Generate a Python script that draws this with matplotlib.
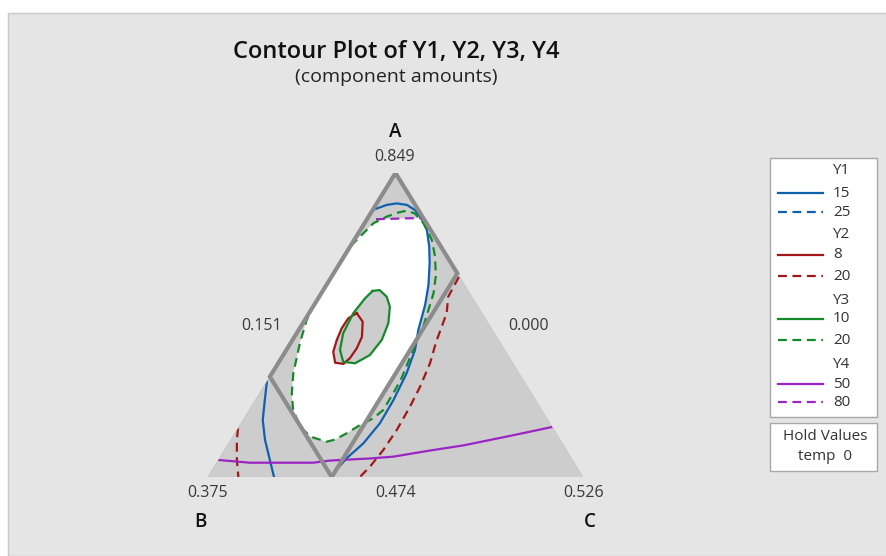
import matplotlib

matplotlib.use("Agg")
import matplotlib.pyplot as plt
from matplotlib.lines import Line2D
from matplotlib.patches import Polygon, Rectangle

plt.rcParams["font.family"] = ["Open Sans", "DejaVu Sans"]

W, H = 886, 556

# ---- data (component proportions A and C; B = 1 - A - C) ----
vertex_names = ["A", "B", "C"]
vertex_amounts = [0.849, 0.375, 0.526]
side_amounts = [0.151, 0.000, 0.474]          # left side, right side, base

# feasible (constrained) region
region_a = [1.00, 0.67, 0.00, 0.33]
region_c = [0.00, 0.33, 0.33, 0.00]

y1_levels = [15, 25]
y2_levels = [8, 20]
y3_levels = [10, 20]
y4_levels = [50, 80]
hold_name, hold_value = "temp", 0

# Y1 = 15 (two branches)
y1_15_a = [0.880, 0.895, 0.900, 0.895, 0.878, 0.851, 0.813, 0.758, 0.704, 0.632,
           0.566, 0.484, 0.418, 0.341, 0.253, 0.177, 0.111, 0.062, 0.012, 0.000]
y1_15_c = [0.003, 0.029, 0.053, 0.083, 0.113, 0.144, 0.177, 0.211, 0.239, 0.272,
           0.296, 0.319, 0.343, 0.359, 0.368, 0.370, 0.359, 0.339, 0.328, 0.328]
y1_15b_a = [0.314, 0.253, 0.188, 0.122, 0.056, 0.000]
y1_15b_c = [0.000, 0.025, 0.052, 0.091, 0.137, 0.176]

# Y2 = 8 (closed) and Y2 = 20 (two branches)
y2_8_a = [0.539, 0.511, 0.461, 0.423, 0.391, 0.372, 0.376, 0.412, 0.451, 0.489, 0.522]
y2_8_c = [0.127, 0.157, 0.180, 0.185, 0.183, 0.175, 0.151, 0.128, 0.118, 0.112, 0.113]
y2_20_a = [0.658, 0.593, 0.539, 0.445, 0.374, 0.297, 0.231, 0.155, 0.089, 0.034, 0.000]
y2_20_c = [0.340, 0.344, 0.367, 0.386, 0.405, 0.417, 0.423, 0.426, 0.423, 0.415, 0.405]
y2_20b_a = [0.160, 0.122, 0.056, 0.000]
y2_20b_c = [0.000, 0.016, 0.049, 0.081]

# Y3 = 10 (closed) and Y3 = 20
y3_10_a = [0.612, 0.615, 0.593, 0.560, 0.506, 0.451, 0.401, 0.374, 0.379, 0.418,
           0.473, 0.539, 0.588]
y3_10_c = [0.133, 0.150, 0.180, 0.205, 0.228, 0.238, 0.231, 0.205, 0.171, 0.143,
           0.124, 0.118, 0.125]
y3_20_a = [0.760, 0.791, 0.835, 0.856, 0.869, 0.876, 0.867, 0.835, 0.780, 0.725,
           0.661, 0.605, 0.566, 0.493, 0.418, 0.329, 0.286, 0.220, 0.193, 0.171,
           0.144, 0.123, 0.116, 0.133, 0.166, 0.220, 0.275, 0.341, 0.440, 0.516, 0.559]
y3_20_c = [0.001, 0.010, 0.024, 0.048, 0.069, 0.092, 0.118, 0.157, 0.207, 0.243,
           0.277, 0.299, 0.309, 0.327, 0.338, 0.353, 0.356, 0.357, 0.344, 0.320,
           0.298, 0.277, 0.258, 0.206, 0.163, 0.117, 0.086, 0.057, 0.025, 0.005, 0.000]

# Y4 = 50 and Y4 = 80
y4_50_a = [0.056, 0.047, 0.047, 0.054, 0.061, 0.067, 0.087, 0.104, 0.133, 0.149, 0.1645]
y4_50_c = [0.000, 0.0885, 0.257, 0.298, 0.402, 0.461, 0.548, 0.629, 0.730, 0.784, 0.835]
y4_80_a = [0.848, 0.849, 0.851, 0.851]
y4_80_c = [0.024, 0.061, 0.100, 0.1425]

BLUE, RED, GREEN, PURPLE = "#1060b0", "#a01818", "#158a2a", "#9a24c4"
SHADE = "#cdcdcd"
PANEL = "#e5e5e5"
EDGE = "#8c8c8c"
DASH = (4, 2.5)


def xy(a, c):
    """ternary (A, C) proportions -> cartesian, B at (0,0), C at (1,0), A at (0.5,1)"""
    return [(ci + ai / 2, ai) for ai, ci in zip(a, c)]


def fx(px):
    return px / W


def fy(py):
    return 1 - py / H


fig = plt.figure(figsize=(W / 100, H / 100), dpi=100)
fig.patches.append(Rectangle((fx(8), 0), 1 - fx(8) + 0.01, fy(13), transform=fig.transFigure,
                             facecolor=PANEL, edgecolor="#c8c8c8", lw=1, zorder=-5))

ax = fig.add_axes([fx(208), (H - 477) / H, 375 / W, 304 / H])
ax.set_xlim(0, 1)
ax.set_ylim(0, 1)
ax.axis("off")

tri = Polygon(xy([0, 0, 1], [0, 1, 0]), closed=True, facecolor=SHADE,
              edgecolor="#c4c4c4", lw=0.6, zorder=1)
ax.add_patch(tri)
region = Polygon(xy(region_a, region_c), closed=True, transform=ax.transData)

# feasible (white) area: inside Y3=20, left of Y1=15, below Y4=80, outside Y3=10 and Y2=8
white = Polygon(xy(y3_20_a, y3_20_c), closed=True, facecolor="white", lw=0, zorder=2)
ax.add_patch(white)
white.set_clip_path(region)
shades = [
    xy(y1_15_a + [0, 1], y1_15_c + [1, 0]),
    xy(y4_80_a + [1], y4_80_c + [0]),
    xy(y3_10_a, y3_10_c),
    xy(y2_8_a, y2_8_c),
]
for pts in shades:
    p = Polygon(pts, closed=True, facecolor=SHADE, lw=0, zorder=3)
    ax.add_patch(p)
    p.set_clip_path(tri)

lines = [
    (y1_15_a, y1_15_c, BLUE, False),
    (y1_15b_a, y1_15b_c, BLUE, False),
    (y2_8_a + y2_8_a[:1], y2_8_c + y2_8_c[:1], RED, False),
    (y2_20_a, y2_20_c, RED, True),
    (y2_20b_a, y2_20b_c, RED, True),
    (y3_10_a + y3_10_a[:1], y3_10_c + y3_10_c[:1], GREEN, False),
    (y3_20_a, y3_20_c, GREEN, True),
    (y4_50_a, y4_50_c, PURPLE, False),
    (y4_80_a, y4_80_c, PURPLE, True),
]
for a, c, col, dashed in lines:
    pts = xy(a, c)
    (ln,) = ax.plot([p[0] for p in pts], [p[1] for p in pts], color=col, lw=1.6, zorder=4)
    if dashed:
        ln.set_dashes(DASH)
    ln.set_clip_path(tri)

ax.add_patch(Polygon(xy(region_a, region_c), closed=True, fill=False,
                     edgecolor=EDGE, lw=3.0, joinstyle="miter", zorder=5))

# ---- titles and ternary labels ----
fig.text(fx(396), fy(52), "Contour Plot of Y1, Y2, Y3, Y4", ha="center", va="center",
         fontsize=17, fontweight="semibold", color="#111111")
fig.text(fx(396), fy(77), "(component amounts)", ha="center", va="center",
         fontsize=14, color="#222222")

num_kw = dict(ha="center", va="center", fontsize=11.5, color="#3a3a3a")
let_kw = dict(ha="center", va="center", fontsize=13.5, fontweight="semibold", color="#111111")
fig.text(fx(395), fy(132), vertex_names[0], **let_kw)
fig.text(fx(200), fy(522), vertex_names[1], **let_kw)
fig.text(fx(590), fy(522), vertex_names[2], **let_kw)
fig.text(fx(395), fy(157), f"{vertex_amounts[0]:.3f}", **num_kw)
fig.text(fx(208), fy(493), f"{vertex_amounts[1]:.3f}", **num_kw)
fig.text(fx(584), fy(493), f"{vertex_amounts[2]:.3f}", **num_kw)
fig.text(fx(262), fy(326), f"{side_amounts[0]:.3f}", **num_kw)
fig.text(fx(529), fy(326), f"{side_amounts[1]:.3f}", **num_kw)
fig.text(fx(396), fy(493), f"{side_amounts[2]:.3f}", **num_kw)

# ---- legend ----
fig.patches.append(Rectangle((fx(770), fy(417)), (877 - 770) / W, (417 - 158) / H,
                             transform=fig.transFigure, facecolor="white",
                             edgecolor="#a8a8a8", lw=1, zorder=1))
leg_kw = dict(ha="left", va="center", fontsize=11, color="#333333")
groups = [("Y1", y1_levels, BLUE), ("Y2", y2_levels, RED),
          ("Y3", y3_levels, GREEN), ("Y4", y4_levels, PURPLE)]
row_y = [[170, 193, 212], [235, 255, 276], [300, 319, 340], [365, 384, 402]]
for (name, lv, col), ys in zip(groups, row_y):
    fig.text(fx(832), fy(ys[0]), name, **leg_kw)
    for k, (level, py) in enumerate(zip(lv, ys[1:])):
        ln = Line2D([fx(778), fx(823)], [fy(py), fy(py)], transform=fig.transFigure,
                    color=col, lw=1.6)
        if k == 1:
            ln.set_dashes(DASH)
        fig.lines.append(ln)
        fig.text(fx(833), fy(py), str(level), **leg_kw)

fig.patches.append(Rectangle((fx(770), fy(471)), (877 - 770) / W, (471 - 423) / H,
                             transform=fig.transFigure, facecolor="white",
                             edgecolor="#a8a8a8", lw=1, zorder=1))
fig.text(fx(825), fy(437), "Hold Values", ha="center", va="center", fontsize=11, color="#333333")
fig.text(fx(825), fy(457), f"{hold_name}  {hold_value}", ha="center", va="center",
         fontsize=11, color="#333333")

fig.savefig("out.png", dpi=100, facecolor="white")
